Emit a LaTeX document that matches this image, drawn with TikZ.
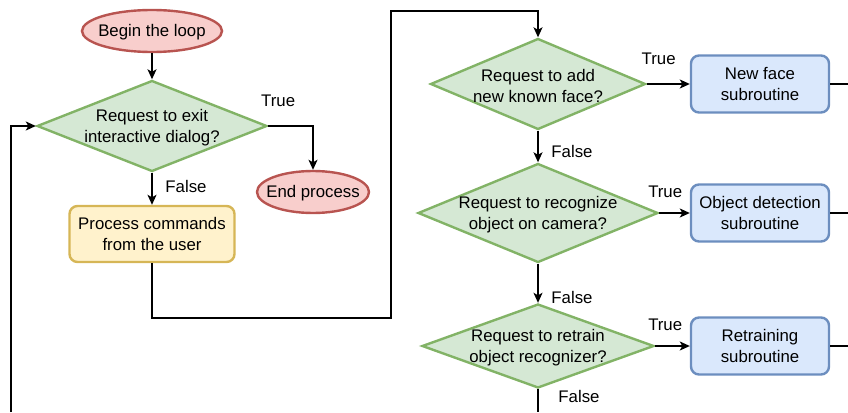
\documentclass[tikz,border=0pt]{standalone}
\usepackage{fontspec}
\setmainfont{Liberation Sans}
\usetikzlibrary{shapes.geometric,arrows.meta}
\definecolor{termfill}{HTML}{F8CECC}
\definecolor{termline}{HTML}{B85450}
\definecolor{decfill}{HTML}{D5E8D4}
\definecolor{decline}{HTML}{82B366}
\definecolor{procfill}{HTML}{FFF2CC}
\definecolor{procline}{HTML}{D6B656}
\definecolor{subfill}{HTML}{DAE8FC}
\definecolor{subline}{HTML}{6C8EBF}
\begin{document}
\begin{tikzpicture}[x=1pt,y=-1pt,
  every node/.style={font=\fontsize{16.8}{21}\selectfont},
  caption/.style={label={[align=center,inner sep=0pt,yshift=-1.5pt]center:#1}},
  shapeline/.style={line width=2.4pt},
  terminal/.style={ellipse, draw=termline, fill=termfill, shapeline,
    minimum height=42pt, inner sep=0pt},
  decision/.style={diamond, draw=decline, fill=decfill, shapeline, inner sep=0pt},
  process/.style={rectangle, rounded corners=8pt, draw=procline, fill=procfill,
    shapeline, align=center, minimum width=165pt, minimum height=56pt},
  subroutine/.style={rectangle, rounded corners=8pt, draw=subline, fill=subfill,
    shapeline, align=center, minimum width=138pt, minimum height=57pt},
  flow/.style={line width=1.4pt, -{Stealth[length=10pt,width=9pt,inset=2.5pt]}},
  plain/.style={line width=1.4pt},
  lbl/.style={inner sep=0pt, at start},
]
\useasboundingbox (0,0) rectangle (848,412);

% shapes of the main loop
\node[terminal, minimum width=140pt, caption={Begin the loop}] (begin) at (152,31) {};
\node[decision, minimum width=230pt, minimum height=91pt,
  caption={Request to exit\\interactive dialog?}] (exit) at (152,126) {};
\node[terminal, minimum width=112pt, caption={End process}] (endp) at (313,192) {};
\node[process] (proc) at (152,234) {Process commands\\from the user};

% command dispatch
\node[decision, minimum width=215pt, minimum height=91pt,
  caption={Request to add\\new known face?}] (face) at (538,84) {};
\node[decision, minimum width=240pt, minimum height=99pt,
  caption={Request to recognize\\object on camera?}] (detect) at (538,213) {};
\node[decision, minimum width=232pt, minimum height=84pt,
  caption={Request to retrain\\object recognizer?}] (retrain) at (538,346) {};

\node[subroutine] (facesub) at (760,84) {New face\\subroutine};
\node[subroutine] (detsub) at (760,213) {Object detection\\subroutine};
\node[subroutine] (retsub) at (760,346) {Retraining\\subroutine};

% free ends and bends of the long connectors
\coordinate (loopin) at (11,412);
\coordinate (bendA) at (391,318);
\coordinate (bendB) at (391,11);
\coordinate (faceout) at (848,84);
\coordinate (detout) at (848,213);
\coordinate (retout) at (848,346);
\coordinate (retfalse) at (538,412);

% connectors
\draw[flow] (begin) -- (exit);
\draw[flow] (exit.east) -| (endp.north)
  node[lbl, xshift=10pt, yshift=25pt] (t1) {True};
\draw[flow] (exit.south) -- (proc.north)
  node[lbl, xshift=34pt, yshift=-14pt] (f1) {False};
\draw[flow] (proc.south) |- (bendA) -- (bendB) -| (face.north);
\draw[flow] (loopin) |- (exit.west);

\draw[flow] (face.east) -- (facesub.west)
  node[lbl, xshift=12pt, yshift=25pt] (t2) {True};
\draw[flow] (face.south) -- (detect.north)
  node[lbl, xshift=34pt, yshift=-21pt] (f2) {False};
\draw[flow] (detect.east) -- (detsub.west)
  node[lbl, xshift=6pt, yshift=21pt] (t3) {True};
\draw[flow] (detect.south) -- (retrain.north)
  node[lbl, xshift=34pt, yshift=-34pt] (f3) {False};
\draw[flow] (retrain.east) -- (retsub.west)
  node[lbl, xshift=10pt, yshift=21pt] (t4) {True};
\draw[plain] (retrain.south) -- (retfalse)
  node[lbl, xshift=41pt, yshift=-7pt] (f4) {False};

\draw[plain] (facesub.east) -- (faceout);
\draw[plain] (detsub.east) -- (detout);
\draw[plain] (retsub.east) -- (retout);
\end{tikzpicture}
\end{document}
